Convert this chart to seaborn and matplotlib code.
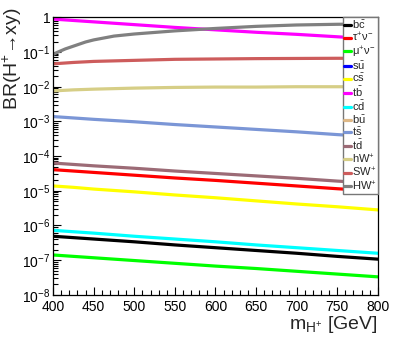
import numpy as np
import pandas as pd
import seaborn as sns
import matplotlib.pyplot as plt
from matplotlib.lines import Line2D
from matplotlib.ticker import MultipleLocator, LogLocator, FuncFormatter, NullFormatter

# === Data: log10 BR(H+ -> xy) ===
mass = [400, 425, 450, 500, 550, 600, 650, 700, 750, 800]

log_br_bc = [-6.31, -6.35, -6.39, -6.47, -6.56, -6.64, -6.72, -6.80, -6.89, -6.97]
log_br_taunu = [-4.39, -4.43, -4.47, -4.55, -4.63, -4.70, -4.78, -4.86, -4.94, -5.01]
log_br_munu = [-6.85, -6.89, -6.93, -7.01, -7.09, -7.17, -7.24, -7.32, -7.40, -7.48]
log_br_cs = [-4.86, -4.90, -4.95, -5.03, -5.12, -5.20, -5.29, -5.38, -5.46, -5.55]
log_br_tb = [-0.05, -0.09, -0.13, -0.21, -0.29, -0.36, -0.43, -0.49, -0.56, -0.63]
log_br_cd = [-6.14, -6.18, -6.22, -6.31, -6.39, -6.47, -6.56, -6.64, -6.72, -6.80]
log_br_ts = [-2.86, -2.90, -2.94, -3.01, -3.09, -3.16, -3.23, -3.30, -3.38, -3.45]
log_br_td = [-4.20, -4.24, -4.28, -4.35, -4.43, -4.50, -4.57, -4.64, -4.72, -4.79]
log_br_hW = [-2.12, -2.09, -2.07, -2.04, -2.02, -2.01, -2.01, -2.00, -2.00, -2.00]
log_br_SW = [-1.34, -1.30, -1.27, -1.24, -1.21, -1.20, -1.19, -1.185, -1.18, -1.18]

# HW+ bends sharply near 400 GeV, so it is read on a finer grid
mass_HW = [400, 405, 410, 415, 420, 430, 440, 450, 475, 500, 550, 600, 650, 700, 750, 800]
log_br_HW = [-1.07, -1.01, -0.96, -0.91, -0.87, -0.79, -0.71, -0.65, -0.54, -0.48,
             -0.39, -0.32, -0.26, -0.22, -0.20, -0.19]

labels = [r'$\mathrm{b\bar{c}}$', r'$\mathrm{\tau^{+}\nu^{-}}$', r'$\mathrm{\mu^{+}\nu^{-}}$',
          r'$\mathrm{s\bar{u}}$', r'$\mathrm{c\bar{s}}$', r'$\mathrm{t\bar{b}}$',
          r'$\mathrm{c\bar{d}}$', r'$\mathrm{b\bar{u}}$', r'$\mathrm{t\bar{s}}$',
          r'$\mathrm{t\bar{d}}$', r'$\mathrm{hW^{+}}$', r'$\mathrm{SW^{+}}$', r'$\mathrm{HW^{+}}$']
colors = ['#000000', '#ff0000', '#00ff00', '#0000ff', '#ffff00', '#ff00ff',
          '#00ffff', '#deb887', '#7b96d6', '#9c6b76', '#d6ce86', '#cd5c5c', '#808080']

# channels drawn in the plot (su and bu lie below the shown range)
drawn = [
    (labels[0], mass, log_br_bc), (labels[1], mass, log_br_taunu),
    (labels[2], mass, log_br_munu), (labels[4], mass, log_br_cs),
    (labels[5], mass, log_br_tb), (labels[6], mass, log_br_cd),
    (labels[8], mass, log_br_ts), (labels[9], mass, log_br_td),
    (labels[10], mass, log_br_hW), (labels[11], mass, log_br_SW),
    (labels[12], mass_HW, log_br_HW),
]

rows = []
for ch, xs, vals in drawn:
    for m, v in zip(xs, vals):
        rows.append({'mass': m, 'BR': 10.0 ** v, 'channel': ch})
df = pd.DataFrame(rows)
palette = dict(zip(labels, colors))

# === Style ===
sns.set_theme(style='ticks')
plt.rcParams['font.family'] = ['Liberation Sans', 'DejaVu Sans']
plt.rcParams['mathtext.fontset'] = 'custom'
plt.rcParams['mathtext.rm'] = 'Liberation Sans'
plt.rcParams['mathtext.it'] = 'Liberation Sans:italic'
plt.rcParams['mathtext.bf'] = 'Liberation Sans:bold'

fig, ax = plt.subplots(figsize=(4.12, 3.54), dpi=100)
fig.subplots_adjust(left=0.129, right=0.917, bottom=0.167, top=0.951)

sns.lineplot(data=df, x='mass', y='BR', hue='channel', palette=palette,
             linewidth=2.3, legend=False, ax=ax)

ax.set_yscale('log')
ax.set_xlim(400, 800)
ax.set_ylim(1e-8, 1)

ax.xaxis.set_major_locator(MultipleLocator(50))
ax.xaxis.set_minor_locator(MultipleLocator(10))
ax.yaxis.set_major_locator(LogLocator(base=10, numticks=12))
ax.yaxis.set_minor_locator(LogLocator(base=10, subs=np.arange(2, 10), numticks=12))
ax.yaxis.set_minor_formatter(NullFormatter())


def exp_label(v, pos):
    e = int(round(np.log10(v)))
    return '1' if e == 0 else r'$10^{%d}$' % e


ax.yaxis.set_major_formatter(FuncFormatter(exp_label))

ax.tick_params(which='both', direction='in', top=False, right=False, colors='black', labelsize=10)
ax.tick_params(axis='both', which='major', length=6, width=0.8)
ax.tick_params(axis='both', which='minor', length=3.5, width=0.8)
ax.tick_params(axis='y', pad=2)
ax.tick_params(axis='x', pad=4)
for sp in ax.spines.values():
    sp.set_linewidth(0.9)
    sp.set_color('black')

ax.set_xlabel(r'$\mathrm{m_{H^{+}}}$ [GeV]', fontsize=14, loc='right')
ax.xaxis.set_label_coords(1.0, -0.07)
ax.set_ylabel('BR(H$^{+}$→xy)', fontsize=14, loc='top')
ax.yaxis.set_label_coords(-0.09, 1.035)

handles = [Line2D([0], [0], color=c, lw=2.3) for c in colors]
leg = ax.legend(handles, labels, loc='upper right', bbox_to_anchor=(1.0, 1.0),
                borderaxespad=0, fontsize=8, handlelength=0.55, handletextpad=0.1,
                labelspacing=0.02, borderpad=0.12, frameon=True, fancybox=False,
                framealpha=1, edgecolor='#777777')
leg.get_frame().set_linewidth(1.0)

plt.savefig('out.png', dpi=100)
